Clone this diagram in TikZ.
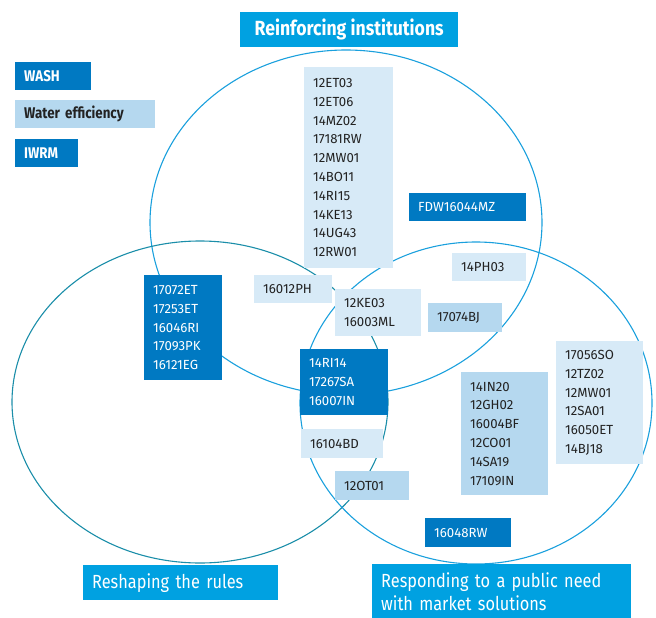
\documentclass[tikz,border=0pt]{standalone}
\usepackage{fontspec}
\setmainfont{Fira Sans}
\newfontfamily\headfont[FakeStretch=0.86]{Fira Sans}
\definecolor{washblue}{HTML}{0079C2}
\definecolor{effblue}{HTML}{B5D8EF}
\definecolor{paleblue}{HTML}{D7EAF7}
\definecolor{headcyan}{HTML}{00A1E1}
\definecolor{ringblue}{HTML}{1AA0DD}
\definecolor{ringteal}{HTML}{1B8EA9}
\definecolor{codegray}{HTML}{222222}
\tikzset{
  box/.style 2 args={anchor=north west, inner xsep=9pt, inner ysep=0pt,
    text width=#1, minimum height=#2, align=left,
    font=\fontsize{13.2}{18.8}\selectfont},
  wash/.style={fill=washblue, text=white},
  eff/.style={fill=effblue, text=codegray},
  pale/.style={fill=paleblue, text=codegray},
  keybox/.style={anchor=north west, inner xsep=9pt, inner ysep=0pt, text width=#1,
    minimum height=28pt, align=left, font=\headfont\bfseries\fontsize{15.5}{17}\selectfont},
  head/.style={anchor=north west, fill=headcyan, text=white, inner xsep=9pt,
    inner ysep=0pt, font=\headfont\fontsize{19}{23}\selectfont},
  ring/.style={line width=1.1pt}
}
\begin{document}
\begin{tikzpicture}[x=1pt,y=-1pt]
  \useasboundingbox (0,0) rectangle (656,618);
  \draw [ring, ringblue] (346,222.5) ellipse [x radius=196pt, y radius=172.5pt];
  \draw [ring, ringteal] (200,402) ellipse [x radius=188pt, y radius=161pt];
  \draw [ring, ringblue] (476,403) ellipse [x radius=176pt, y radius=161pt];

  \node (reinforce) [head, minimum width=218pt, minimum height=35pt, align=center, inner xsep=0pt,
    font=\headfont\bfseries\fontsize{20.5}{23}\selectfont]
    at (240,12) {Reinforcing institutions};
  \node (reshape) [head, minimum height=35pt, text width=177pt] at (83,565) {Reshaping the rules};
  \node (respond) [head, minimum height=54pt, text width=241pt, align=left]
    at (372,564) {Responding to a public need\\with market solutions};

  \node (keywash) [keybox=58pt, wash] at (15,62) {WASH};
  \node (keyeff) [keybox=122pt, eff] at (15,100) {Water efficiency};
  \node (keyiwrm) [keybox=45pt, wash] at (15,139) {IWRM};

  \node (topcodes) [box={71pt}{201pt}, pale] at (304,67)
    {12ET03\\12ET06\\14MZ02\\17181RW\\12MW01\\14BO11\\14RI15\\14KE13\\14UG43\\12RW01};
  \node (fdw) [box={99pt}{28pt}, wash] at (409,193) {FDW16044MZ};
  \node (ph03) [box={56pt}{28pt}, pale] at (452,253) {14PH03};
  \node (ph12) [box={60pt}{28pt}, pale] at (254,275) {16012PH};
  \node (ke03) [box={68pt}{47pt}, pale] at (335,289) {12KE03\\16003ML};
  \node (bj74) [box={56pt}{29pt}, eff] at (428,303) {17074BJ};
  \node (leftcodes) [box={60pt}{105pt}, wash] at (144,275)
    {17072ET\\17253ET\\16046RI\\17093PK\\16121EG};
  \node (midcodes) [box={70pt}{66pt}, wash] at (300,349) {14RI14\\17267SA\\16007IN};
  \node (bd04) [box={64pt}{29pt}, pale] at (301,429) {16104BD};
  \node (ot01) [box={56pt}{29pt}, eff] at (335,471) {12OT01};
  \node (effcodes) [box={69pt}{123pt}, eff] at (461,372)
    {14IN20\\12GH02\\16004BF\\12CO01\\14SA19\\17109IN};
  \node (marketcodes) [box={69pt}{123pt}, pale] at (556,341)
    {17056SO\\12TZ02\\12MW01\\12SA01\\16050ET\\14BJ18};
  \node (rw48) [box={68pt}{29pt}, wash] at (425,518) {16048RW};
\end{tikzpicture}
\end{document}
